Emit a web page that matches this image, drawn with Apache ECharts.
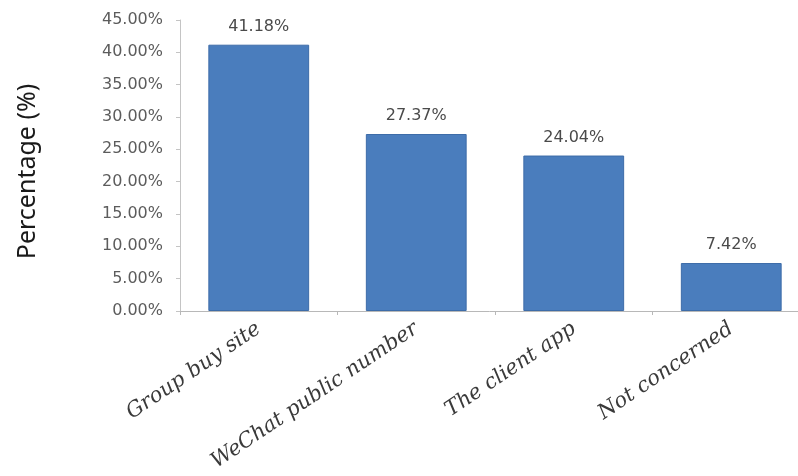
<!DOCTYPE html>
<html>
<head>
<meta charset="utf-8">
<script src="https://cdn.jsdelivr.net/npm/echarts@6/dist/echarts.min.js"></script>
<style>
  html, body { margin: 0; padding: 0; background: #ffffff; }
  #chart { width: 798px; height: 476px; }
</style>
</head>
<body>
<div id="chart"></div>
<script>
// Channels through which respondents follow group-buying information
const categories = ['Group buy site', 'WeChat public number', 'The client app', 'Not concerned'];
const shares = [41.18, 27.37, 24.04, 7.42];

// Value axis: 0% to 45% in 5% steps
const axisMin = 0;
const axisMax = 45;
const axisStep = 5;

const chart = echarts.init(document.getElementById('chart'), null, { renderer: 'canvas' });

// The plot area runs a little past the right edge of the canvas,
// so the last category band is cut off.
chart.setOption({
  backgroundColor: '#ffffff',
  animation: false,
  grid: {
    left: 180, top: 20, height: 291, width: 630,
    containLabel: false,
    outerBoundsMode: 'none'
  },
  xAxis: {
    type: 'category',
    data: categories,
    axisLine: { show: true, lineStyle: { color: '#b8b8b8', width: 1 } },
    axisTick: { show: true, length: 4, lineStyle: { color: '#b8b8b8' } },
    axisLabel: {
      rotate: 34,
      margin: 16,
      interval: 0,
      color: '#3a3a3a',
      fontFamily: 'DejaVu Serif',
      fontStyle: 'italic',
      fontSize: 21
    },
    splitLine: { show: false }
  },
  yAxis: {
    type: 'value',
    min: axisMin,
    max: axisMax,
    interval: axisStep,
    name: 'Percentage (%)',
    nameLocation: 'middle',
    nameRotate: 90,
    nameGap: 140,
    nameTextStyle: { color: '#1a1a1a', fontFamily: 'Noto Sans', fontSize: 25, padding: [0, 12, 0, 0] },
    axisLine: { show: true, lineStyle: { color: '#c4c4c4', width: 1 } },
    axisTick: { show: true, length: 4, lineStyle: { color: '#c4c4c4' } },
    axisLabel: {
      margin: 17,
      color: '#5c5c5c',
      fontFamily: 'DejaVu Sans',
      fontSize: 16,
      formatter: v => v.toFixed(2) + '%'
    },
    splitLine: { show: false }
  },
  series: [{
    type: 'bar',
    data: shares,
    barCategoryGap: '36%',
    itemStyle: { color: '#4a7dbd', borderColor: '#3d6ca8', borderWidth: 1 },
    label: {
      show: true,
      position: 'top',
      distance: 10,
      color: '#4a4a4a',
      fontFamily: 'DejaVu Sans',
      fontSize: 16,
      formatter: p => p.value.toFixed(2) + '%'
    }
  }]
});
</script>
</body>
</html>
